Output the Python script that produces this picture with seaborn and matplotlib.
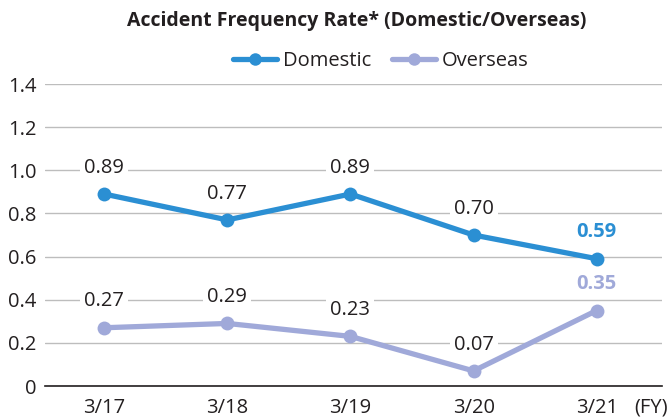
import matplotlib
matplotlib.use("Agg")
import matplotlib.pyplot as plt
import seaborn as sns
import pandas as pd
from matplotlib.lines import Line2D

categories = ["3/17", "3/18", "3/19", "3/20", "3/21"]
domestic = [0.89, 0.77, 0.89, 0.70, 0.59]
overseas = [0.27, 0.29, 0.23, 0.07, 0.35]
series_names = ["Domestic", "Overseas"]
yticks = [0, 0.2, 0.4, 0.6, 0.8, 1.0, 1.2, 1.4]
ytick_labels = ["0", "0.2", "0.4", "0.6", "0.8", "1.0", "1.2", "1.4"]
title = "Accident Frequency Rate* (Domestic/Overseas)"

colors = {"Domestic": "#2b8fd3", "Overseas": "#a0a9d9"}

sns.set_theme(style="white")
plt.rcParams["font.family"] = ["Open Sans", "DejaVu Sans"]

df = pd.DataFrame({
    "idx": list(range(len(categories))) * 2,
    "value": domestic + overseas,
    "series": [series_names[0]] * len(categories) + [series_names[1]] * len(categories),
})

fs = 14.5

fig = plt.figure(figsize=(6.72, 4.19), dpi=100)
ax = fig.add_axes([45 / 672, 1 - 386 / 419, (662 - 45) / 672, (386 - 84) / 419])

sns.lineplot(data=df, x="idx", y="value", hue="series", palette=colors,
             marker="o", markersize=10, linewidth=3.8, markeredgewidth=0,
             legend=False, ax=ax, zorder=3)

ax.set_xlim(-0.48, 4.53)
ax.set_ylim(0, 1.4)
ax.set_yticks(yticks)
ax.set_yticklabels(ytick_labels)
ax.set_xticks(range(len(categories)))
ax.set_xticklabels(categories)
ax.tick_params(axis="both", labelsize=fs, colors="#231f20", length=0)
ax.tick_params(axis="y", pad=6)
ax.tick_params(axis="x", pad=8.5)
ax.set_xlabel("")
ax.set_ylabel("")
ax.grid(axis="y", color="#bdbdbd", linewidth=1)
ax.set_axisbelow(True)
for s in ["left", "right", "top"]:
    ax.spines[s].set_visible(False)
ax.spines["bottom"].set_color("#231f20")
ax.spines["bottom"].set_linewidth(1.2)

def label(i, v, color, bold):
    ax.annotate(f"{v:.2f}", (i, v), xytext=(0, 19), textcoords="offset points",
                ha="center", va="center", fontsize=fs, color=color,
                fontweight="bold" if bold else "normal",
                bbox=dict(boxstyle="square,pad=0.2", fc="white", ec="none"),
                zorder=2.5)

n = len(categories)
for i, v in enumerate(domestic):
    last = i == n - 1
    label(i, v, colors["Domestic"] if last else "#231f20", last)
for i, v in enumerate(overseas):
    last = i == n - 1
    label(i, v, colors["Overseas"] if last else "#231f20", last)

fig.text(634 / 672, 1 - 407 / 419, "(FY)", fontsize=fs, color="#231f20",
         ha="left", va="center")

fig.text(357 / 672, 1 - 21 / 419, title, fontsize=14, fontweight="bold",
         color="#231f20", ha="center", va="center")

handles = [Line2D([0], [0], color=colors[s], linewidth=3.8, marker="o",
                  markersize=9, markeredgewidth=0) for s in series_names]
fig.legend(handles, series_names, loc="center", bbox_to_anchor=(381 / 672, 1 - 61 / 419),
           ncol=2, frameon=False, fontsize=fs, handlelength=2.2, handletextpad=0.3,
           columnspacing=1.0, labelcolor="#231f20")

fig.savefig("out.png", dpi=100)
